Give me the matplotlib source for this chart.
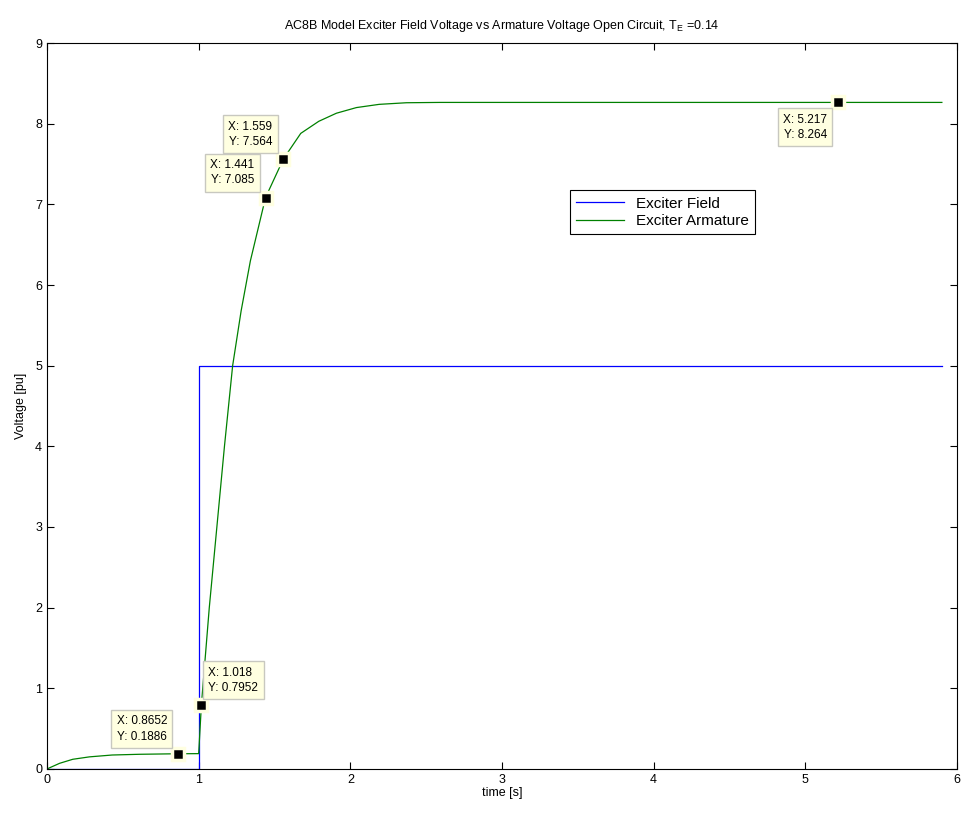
import matplotlib
matplotlib.use("Agg")
import matplotlib.pyplot as plt

plt.rcParams['font.family'] = ['Liberation Sans', 'DejaVu Sans']
plt.rcParams['mathtext.fontset'] = 'custom'
plt.rcParams['mathtext.rm'] = 'Liberation Sans'
plt.rcParams['mathtext.it'] = 'Liberation Sans'

# Exciter field voltage (step)
field_t = [0.0, 1.0, 1.0, 5.9]
field_v = [0.0, 0.0, 5.0, 5.0]

# Exciter armature voltage
arm_t = [0.0, 0.083, 0.17, 0.28, 0.43, 0.61, 0.8652, 1.0, 1.018, 1.07, 1.12, 1.17,
         1.224, 1.28, 1.341, 1.441, 1.559, 1.673, 1.792, 1.908, 2.04, 2.19, 2.37,
         2.59, 3.0, 4.0, 5.217, 5.9]
arm_v = [0.0, 0.07, 0.12, 0.15, 0.173, 0.182, 0.1886, 0.19, 0.7952, 2.0, 3.0, 4.0,
         5.0, 5.68, 6.3, 7.085, 7.564, 7.88, 8.03, 8.13, 8.20, 8.24, 8.26,
         8.264, 8.264, 8.264, 8.264, 8.264]

# Data tips: (x, y, text offset in points)
tip_x = [0.8652, 1.018, 1.441, 1.559, 5.217]
tip_y = [0.1886, 0.7952, 7.085, 7.564, 8.264]
tip_txt = ["X: 0.8652\nY: 0.1886", "X: 1.018\nY: 0.7952", "X: 1.441\nY: 7.085",
           "X: 1.559\nY: 7.564", "X: 5.217\nY: 8.264"]
tip_off = [(-8, 8, 'right', 'bottom'), (5, 8, 'left', 'bottom'), (-8, 8, 'right', 'bottom'),
           (-8, 8, 'right', 'bottom'), (-8, -8, 'right', 'top')]

fig = plt.figure(figsize=(9.63, 8.17), dpi=100)
ax = fig.add_axes([0.0488, 0.0588, 0.945, 0.8885])

ax.plot(field_t, field_v, color='#0000ff', lw=0.9, label='Exciter Field')
ax.plot(arm_t, arm_v, color='#008000', lw=0.9, label='Exciter Armature')

for x, y, txt, (dx, dy, ha, va) in zip(tip_x, tip_y, tip_txt, tip_off):
    ax.plot([x], [y], marker='s', ms=8.5, color='black', mec='#ffffe1', mew=2.5, zorder=5)
    ax.annotate(txt, (x, y), xytext=(dx, dy), textcoords='offset points',
                ha=ha, va=va, fontsize=8.5, linespacing=1.35,
                bbox=dict(boxstyle='square,pad=0.45', fc='#ffffe1', ec='#c8c8c0', lw=1),
                zorder=6)

ax.set_xlim(0, 6)
ax.set_ylim(0, 9)
ax.set_xticks(range(0, 7))
ax.set_yticks(range(0, 10))
ax.tick_params(direction='in', top=True, right=True, labelsize=9, length=5, width=0.8)
for s in ax.spines.values():
    s.set_linewidth(0.8)

ax.set_xlabel('time [s]', fontsize=9, labelpad=1)
ax.set_ylabel('Voltage [pu]', fontsize=9, labelpad=6)
ax.set_title('AC8B Model Exciter Field Voltage vs Armature Voltage Open Circuit, T$_{\\mathrm{E}}$ =0.14',
             fontsize=9, pad=10)

leg = ax.legend(loc='upper left', bbox_to_anchor=(0.575, 0.797), fontsize=11,
                fancybox=False, framealpha=1, edgecolor='black', borderpad=0.4,
                handlelength=3.1, handletextpad=0.8, labelspacing=0.25, borderaxespad=0)
leg.get_frame().set_linewidth(0.8)

fig.savefig('out.png', dpi=100)
